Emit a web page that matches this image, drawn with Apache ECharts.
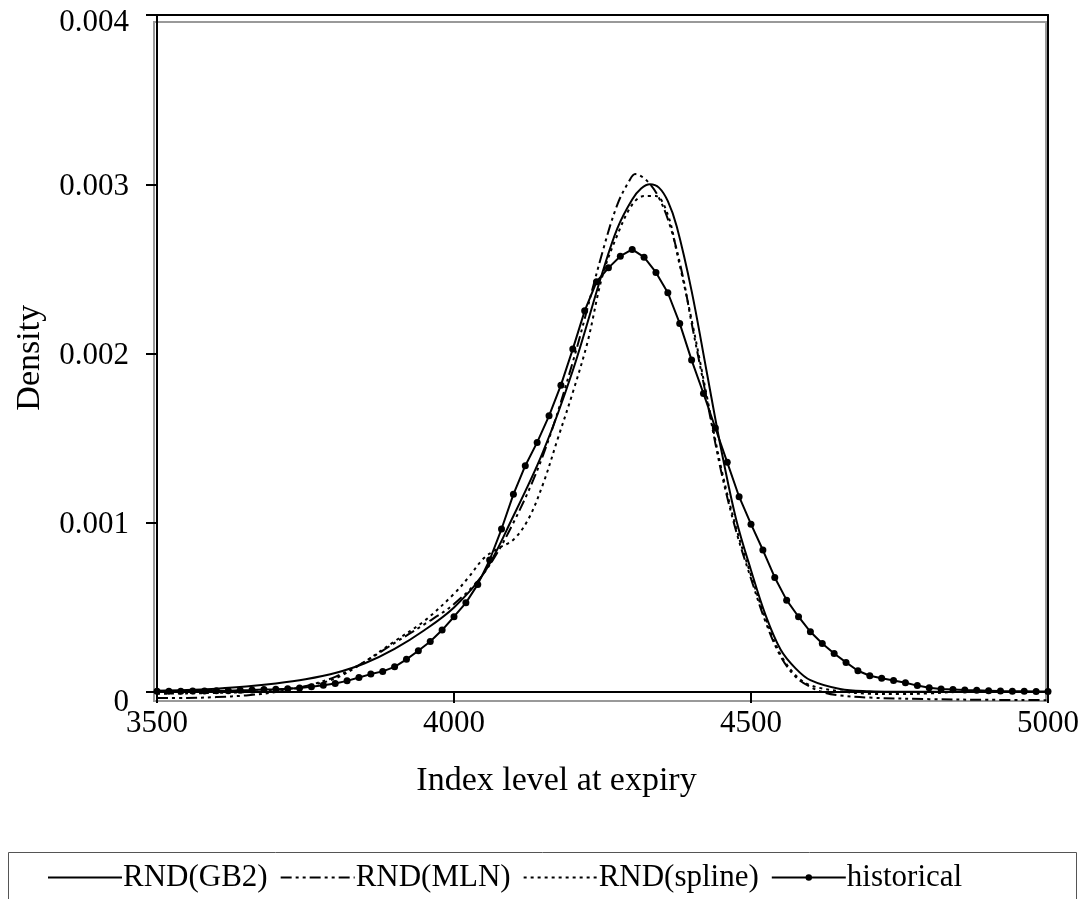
<!DOCTYPE html>
<html><head><meta charset="utf-8">
<script src="https://cdn.jsdelivr.net/npm/echarts@6/dist/echarts.min.js"></script>
<style>html,body{margin:0;padding:0;background:#fff}#c{width:1085px;height:899px}</style>
</head><body><div id="c"></div>
<script>
// Density values below are given in units of 0.001
const UNIT = 0.001;
const xTicks = [3500, 4000, 4500, 5000];
const yTicks = [0, 0.001, 0.002, 0.003, 0.004];
const seriesNames = ['RND(GB2)', 'RND(MLN)', 'RND(spline)', 'historical'];

const gb2X = [3500,3550,3600,3650,3700,3750,3800,3850,3900,3950,4000,4050,4100,4150,4200,4250,4275,4300,4315,4330,4345,4360,4375,4400,4425,4450,4475,4500,4525,4550,4575,4600,4650,4700,4750,4800,4900,5000];
const gb2Y = [0.008,0.012,0.020,0.032,0.050,0.075,0.112,0.170,0.255,0.365,0.50,0.70,1.04,1.42,1.90,2.48,2.74,2.91,2.975,3.00,2.98,2.90,2.75,2.37,1.90,1.43,1.02,0.72,0.45,0.25,0.14,0.07,0.018,0.005,0.002,0.001,0.0,0.0];

const mlnX = [3500,3550,3600,3650,3700,3750,3800,3850,3900,3950,4000,4050,4100,4150,4200,4250,4275,4295,4305,4325,4345,4365,4385,4400,4425,4450,4475,4500,4525,4550,4575,4600,4625,4650,4700,4800,4900,5000];
const mlnY = [-0.035,-0.035,-0.030,-0.020,0.000,0.035,0.090,0.180,0.290,0.400,0.52,0.70,1.00,1.40,1.95,2.60,2.88,3.02,3.06,3.02,2.92,2.74,2.46,2.18,1.74,1.30,0.95,0.67,0.41,0.21,0.09,0.03,-0.005,-0.020,-0.033,-0.042,-0.046,-0.048];

const splX = [3500,3550,3600,3650,3700,3750,3800,3850,3900,3950,4000,4025,4050,4075,4100,4125,4150,4175,4200,4225,4250,4275,4300,4320,4340,4360,4375,4400,4425,4450,4475,4500,4525,4550,4575,4600,4650,4700,4750,4800,4850,5000];
const splY = [-0.010,-0.008,-0.005,0.000,0.012,0.035,0.080,0.180,0.300,0.420,0.58,0.68,0.79,0.85,0.90,1.02,1.23,1.50,1.77,2.07,2.46,2.70,2.88,2.93,2.93,2.82,2.60,2.20,1.76,1.32,0.97,0.69,0.43,0.22,0.10,0.04,0.005,-0.010,-0.012,-0.008,0.0,0.0];

const histX = [3500,3520,3540,3560,3580,3600,3620,3640,3660,3680,3700,3720,3740,3760,3780,3800,3820,3840,3860,3880,3900,3920,3940,3960,3980,4000,4020,4040,4060,4080,4100,4120,4140,4160,4180,4200,4220,4240,4260,4280,4300,4320,4340,4360,4380,4400,4420,4440,4460,4480,4500,4520,4540,4560,4580,4600,4620,4640,4660,4680,4700,4720,4740,4760,4780,4800,4820,4840,4860,4880,4900,4920,4940,4960,4980,5000];
const histY = [0.004,0.004,0.005,0.006,0.006,0.007,0.008,0.010,0.012,0.015,0.017,0.020,0.024,0.031,0.040,0.051,0.066,0.086,0.106,0.122,0.149,0.193,0.244,0.299,0.366,0.445,0.527,0.636,0.780,0.963,1.168,1.337,1.475,1.632,1.813,2.026,2.252,2.424,2.506,2.575,2.615,2.569,2.479,2.359,2.178,1.961,1.764,1.560,1.357,1.154,0.992,0.839,0.677,0.543,0.445,0.356,0.287,0.228,0.175,0.126,0.096,0.081,0.068,0.055,0.038,0.025,0.018,0.015,0.012,0.010,0.008,0.006,0.005,0.004,0.003,0.003];

function pairs(xs, ys) { return xs.map((x, i) => [x, ys[i] * UNIT]); }

const FONT = 'Liberation Serif';
const chart = echarts.init(document.getElementById('c'), null, {renderer: 'canvas'});
const lineBase = {type: 'line', smooth: 0.35, symbol: 'none', animation: false, z: 3, clip: true};
const hideSym = {color: 'rgba(0,0,0,0)', borderWidth: 0, borderColor: 'rgba(0,0,0,0)'};

chart.setOption({
  backgroundColor: '#fff',
  animation: false,
  grid: {left: 157, right: 37, top: 15, bottom: 198.5, containLabel: false},
  graphic: [
    {type: 'rect', z: 0, silent: true, shape: {x: 154, y: 22, width: 892, height: 679},
     style: {fill: 'none', stroke: '#999', lineWidth: 2}},
    {type: 'rect', z: 0, silent: true, shape: {x: 8.5, y: 852.5, width: 1068, height: 60},
     style: {fill: 'none', stroke: '#555', lineWidth: 1}}
  ],
  xAxis: [{
    type: 'value', min: 3500, max: 5000, interval: 500,
    axisLine: {onZero: true, lineStyle: {color: '#000', width: 2}},
    axisTick: {show: true, inside: false, length: 11, lineStyle: {color: '#000', width: 2}},
    axisLabel: {customValues: xTicks, margin: 8, fontSize: 31, fontFamily: FONT, color: '#000',
      formatter: v => String(v)},
    splitLine: {show: false},
    name: 'Index level at expiry', nameLocation: 'middle', nameGap: 64,
    nameTextStyle: {fontSize: 34, fontFamily: FONT, color: '#000', padding: [0, 92, 0, 0]}
  }, {
    type: 'value', position: 'top', min: 3500, max: 5000,
    axisLine: {onZero: false, lineStyle: {color: '#000', width: 2}},
    axisTick: {show: false}, axisLabel: {show: false}, splitLine: {show: false}
  }],
  yAxis: [{
    type: 'value', min: -0.00005, max: 0.004,
    axisLine: {lineStyle: {color: '#000', width: 2}},
    axisTick: {show: true, inside: false, length: 11, customValues: yTicks, lineStyle: {color: '#000', width: 2}},
    axisLabel: {customValues: yTicks, margin: 28, color: '#000',
      formatter: v => {
        if (Math.abs(v) < 1e-12) return '{z|0}';
        if (Math.abs(v - 0.004) < 1e-12) return '{t|' + v.toFixed(3) + '}';
        return '{m|' + v.toFixed(3) + '}';
      },
      rich: {
        z: {fontSize: 31, fontFamily: FONT, color: '#000', padding: [22, 0, 0, 0]},
        t: {fontSize: 31, fontFamily: FONT, color: '#000', padding: [15, 0, 0, 0]},
        m: {fontSize: 31, fontFamily: FONT, color: '#000', padding: [5, 0, 0, 0]}
      }},
    splitLine: {show: false},
    name: 'Density', nameLocation: 'middle', nameGap: 110, nameRotate: 90,
    nameTextStyle: {fontSize: 34, fontFamily: FONT, color: '#000'}
  }, {
    type: 'value', position: 'right', min: -0.00005, max: 0.004,
    axisLine: {show: true, onZero: false, lineStyle: {color: '#000', width: 2}},
    axisTick: {show: false}, axisLabel: {show: false}, splitLine: {show: false}
  }],
  legend: {
    show: true, left: 42, top: 857, orient: 'horizontal',
    itemWidth: 74, itemHeight: 8, itemGap: 12,
    data: [
      {name: seriesNames[0], itemStyle: hideSym},
      {name: seriesNames[1], itemStyle: hideSym},
      {name: seriesNames[2], itemStyle: hideSym},
      {name: seriesNames[3]}
    ],
    textStyle: {fontSize: 31, fontFamily: FONT, color: '#000', padding: [0, 0, 0, -4]}
  },
  series: [
    Object.assign({}, lineBase, {name: seriesNames[0], data: pairs(gb2X, gb2Y),
      lineStyle: {color: '#000', width: 2, type: 'solid'}, itemStyle: {color: '#000'}}),
    Object.assign({}, lineBase, {name: seriesNames[1], data: pairs(mlnX, mlnY),
      lineStyle: {color: '#000', width: 2, type: [11, 4, 3, 4, 3, 4]}, itemStyle: {color: '#000'}}),
    Object.assign({}, lineBase, {name: seriesNames[2], data: pairs(splX, splY),
      lineStyle: {color: '#000', width: 2, type: [3, 4]}, itemStyle: {color: '#000'}}),
    Object.assign({}, lineBase, {name: seriesNames[3], data: pairs(histX, histY), smooth: false,
      symbol: 'circle', symbolSize: 7, showSymbol: true,
      lineStyle: {color: '#000', width: 2, type: 'solid'}, itemStyle: {color: '#000'}})
  ]
});
</script></body></html>
